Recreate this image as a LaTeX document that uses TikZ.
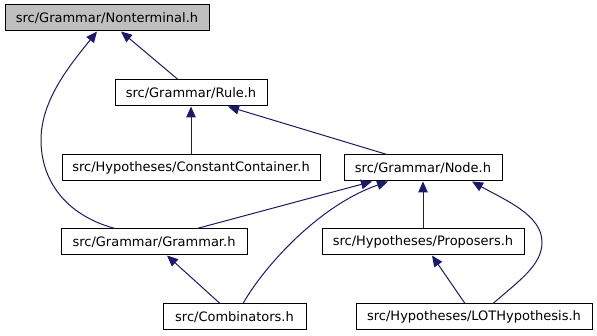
\documentclass[tikz,border=0pt]{standalone}
\usepackage{fontspec}
\setmainfont{DejaVu Sans}
\usetikzlibrary{arrows.meta}
\definecolor{edgeblue}{HTML}{191970}

\begin{document}
\begin{tikzpicture}[x=1pt,y=-1pt,
	file/.style={draw=black,line width=1pt,fill=white,minimum height=26pt,inner sep=0pt,font=\fontsize{13}{15}\selectfont},
	inc/.style={edgeblue,line width=1pt,-{Triangle[length=11pt,width=9.5pt]}}]
		
		\useasboundingbox (0,0) rectangle (597,336);
		
		% the files, one row per level
		\node[file,fill=black!25,minimum width=204pt] (nonterminal) at (107,18) {src/Grammar/Nonterminal.h};
		\node[file,minimum width=152pt] (rule) at (191,93) {src/Grammar/Rule.h};
		\node[file,minimum width=258pt] (constant) at (191,168) {src/Hypotheses/ConstantContainer.h};
		\node[file,minimum width=158pt] (gnode) at (423,168) {src/Grammar/Node.h};
		\node[file,minimum width=186pt] (grammar) at (154,242) {src/Grammar/Grammar.h};
		\node[file,minimum width=202pt] (proposers) at (423,242) {src/Hypotheses/Proposers.h};
		\node[file,minimum width=143pt] (combinators) at (234.5,317) {src/Combinators.h};
		\node[file,minimum width=236pt] (lot) at (474,317) {src/Hypotheses/LOTHypothesis.h};
		
		% include edges
		\draw[inc] ([xshift=-13pt]rule.north) -- ([xshift=14pt]nonterminal.south);
		\draw[inc] ([xshift=-39pt]grammar.north) .. controls (65,215) and (41,180) .. (41,140)
			.. controls (41,100) and (70,65) .. ([xshift=-10pt]nonterminal.south);
		\draw[inc] (constant.north) -- (rule.south);
		\draw[inc] ([xshift=-36pt]gnode.north) -- ([xshift=37pt]rule.south);
		\draw[inc] ([xshift=43pt]grammar.north) -- ([xshift=-51pt]gnode.south);
		\draw[inc] ([xshift=8.5pt]combinators.north) .. controls (265,265) and (320,205) .. ([xshift=-35pt]gnode.south);
		\draw[inc] (proposers.north) -- (gnode.south);
		\draw[inc] ([xshift=19pt]lot.north) .. controls (520,280) and (542,265) .. (542,242)
			.. controls (542,215) and (505,200) .. ([xshift=49pt]gnode.south);
		\draw[inc] ([xshift=-14.5pt]combinators.north) -- ([xshift=13pt]grammar.south);
		\draw[inc] ([xshift=-9pt]lot.north) -- ([xshift=9pt]proposers.south);
		
	\end{tikzpicture}
\end{document}
